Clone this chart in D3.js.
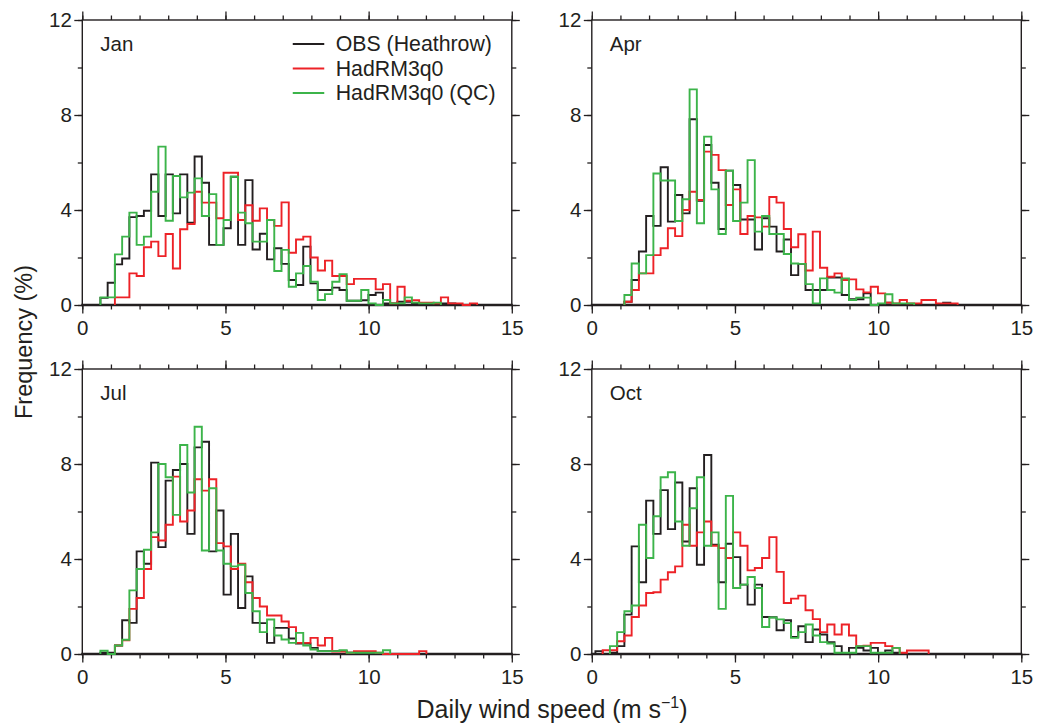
<!DOCTYPE html>
<html><head><meta charset="utf-8">
<script src="https://cdn.jsdelivr.net/npm/d3@7"></script>
<style>
body{margin:0;background:#fff}
svg{display:block}
text{font-family:"Liberation Sans",Arial,Helvetica,sans-serif;fill:#231f20}
</style></head>
<body><svg id="chart" width="1040" height="724"></svg>
<script>
// ---- data ----
const binWidth = 0.253;          // m/s; bin k is centred on k*binWidth
const firstBin = 1;              // index of first value in each series
const months = ["Jan", "Apr", "Jul", "Oct"];
const seriesNames = ["OBS (Heathrow)", "HadRM3q0", "HadRM3q0 (QC)"];
const seriesColors = ["#231f20", "#ed2227", "#3cb44a"];
const xTicks = [0, 5, 10, 15];
const yTicks = [0, 4, 8, 12];

const janObs = [0,0,0.3,0.94,1.71,1.96,3.7,3.75,3.97,5.5,3.75,5.5,3.86,5.5,3.47,6.25,5.15,2.53,2.53,3.23,5.4,2.53,5.26,2.34,3.0,1.92,2.39,1.73,1.05,0.84,2.46,0.91,0.63,0.63,0.73,0.63,0.18,0.18,0.2,0.42,0.52,0.07,0.07,0.14,0.14,0.07,0.07,0,0,0.07,0.07];
const janRcm = [0,0,0,0,0.32,0.32,1.33,1.22,2.43,2.67,2.06,2.99,1.54,3.19,3.41,4.77,4.31,4.31,3.65,5.57,5.57,3.58,4.2,3.55,4.07,3.58,3.33,4.32,2.2,2.76,2.88,2.0,1.45,1.87,1.22,1.22,0.88,1.1,1.1,1.1,0.66,0.88,0.07,0.77,0.18,0.2,0.1,0.1,0.07,0.32,0.07,0.07,0,0.07];
const janQc  = [0,0,0.32,0.32,2.13,2.88,3.89,2.53,2.88,4.77,6.67,3.55,5.43,4.53,4.73,5.33,3.75,4.67,2.53,3.58,5.4,3.89,3.44,2.67,2.67,3.58,1.43,2.32,0.77,1.33,1.64,0.98,0.21,0.46,0.98,1.3,0.18,0.18,0.63,0.07,0,0.21,0.07,0.07,0.32,0.1,0.07,0.07,0.1];

const aprObs = [0,0,0,0,0.14,1.05,2.25,3.75,3.33,5.8,3.51,4.63,3.86,7.82,4.39,6.74,5.15,3.2,5.66,5.05,3.6,3.6,2.34,3.65,3.3,2.25,2.76,1.26,1.73,0.63,0.63,0.63,1.16,1.16,0.42,0.24,0.24,0.49,0,0,0.1,0,0,0,0,0,0,0,0.1];
const aprRcm = [0,0,0,0,0.14,0.63,1.33,1.33,2.1,2.39,3.23,2.9,4.0,4.77,4.42,6.46,6.32,5.68,4.21,4.87,2.99,3.75,3.69,3.3,4.55,4.31,3.2,2.43,2.98,1.45,3.09,1.57,1.19,1.33,1.05,1.08,0.66,0.53,0.77,0.49,0.1,0.07,0.21,0.07,0.07,0.21,0.21,0.07,0.07,0.07];
const aprQc  = [0,0,0,0,0.42,1.75,1.33,2.1,5.54,5.24,5.24,3.54,4.45,9.08,3.44,7.09,4.87,2.99,5.66,3.54,4.31,6.1,3.09,3.75,2.99,2.99,2.15,1.75,1.73,0.88,0.07,1.12,0.63,0.52,1.12,0.21,0.31,0.31,0,0.07,0.45,0.07,0.07,0.07];

const julObs = [0,0,0.05,0.05,0.36,1.42,1.31,4.32,3.8,8.06,4.5,7.3,7.75,8.0,5.06,8.7,8.94,4.32,6.04,2.5,5.06,1.94,3.27,1.31,1.3,0.47,1.1,1.1,0.65,0.44,0.44,0.26,0.12,0.12,0.12,0.12,0.05,0.05];
const julRcm = [0,0,0,0,0.36,0.58,1.9,2.36,3.58,4.92,4.78,5.44,7.47,5.58,6.04,7.36,6.88,7.36,4.67,4.53,3.58,3.8,3.02,2.36,2.0,1.62,1.62,1.37,1.13,0.47,0.47,0.68,0.36,0.68,0.1,0.1,0.05,0.12,0.12,0.12,0.05,0,0,0,0,0,0.12];
const julQc  = [0,0,0.14,0,0.36,0.6,2.68,3.58,4.39,5.12,8.0,7.44,5.86,8.8,6.8,9.57,4.36,6.98,4.36,3.8,3.69,3.76,2.57,1.8,0.92,1.45,0.78,0.61,0.47,0.89,0.36,0.19,0.12,0.12,0.12,0.16,0.05,0.05,0.05,0.05,0.05,0.16];

const octObs = [0.12,0,0.05,0.33,1.66,4.53,3.02,6.46,5.06,6.9,5.26,7.22,4.74,6.98,3.76,8.38,4.6,3.02,4.64,4.08,2.92,2.08,2.92,1.56,1.55,1.0,1.42,0.72,1.17,0.5,1.03,0.82,0.5,0.33,0,0.26,0.26,0.15,0.26,0,0.15,0.05];
const octRcm = [0,0.16,0.16,0.54,0.78,1.56,2.04,2.57,2.6,3.13,3.44,3.69,5.44,4.56,5.12,5.58,4.56,4.46,4.04,5.12,4.56,3.52,3.62,4.04,4.92,3.46,2.15,2.33,2.46,1.84,1.47,0.92,1.24,0.82,1.24,0.78,0.33,0.35,0.47,0.47,0.33,0.26,0.05,0.15,0.15,0.15];
const octQc  = [0,0,0.33,0.92,1.8,2.04,5.44,4.04,5.8,7.44,7.65,5.58,4.56,6.14,7.44,4.56,5.12,1.9,6.66,2.78,2.92,3.24,2.78,1.14,1.54,1.46,1.3,0.68,0.92,1.24,0.78,0.5,0.44,0.05,0.05,0.05,0.33,0.33,0.05,0.05,0.05,0.26];

const panelSeries = [
  [janObs, janRcm, janQc],
  [aprObs, aprRcm, aprQc],
  [julObs, julRcm, julQc],
  [octObs, octRcm, octQc]
];

// ---- layout ----
const ink = "#231f20";
const panelLeft = [82.3, 591.8];
const panelTop = [20, 369];
const panelW = 429.5, panelH = 285;
const svg = d3.select("#chart");

function stepPoints(vals) {
  let a = vals.findIndex(v => v > 0);
  let b = vals.length - 1;
  while (b > a && !(vals[b] > 0)) b--;
  const pts = [];
  for (let i = a; i <= b; i++) {
    const k = i + firstBin;
    const l = (k - 0.5) * binWidth, r = (k + 0.5) * binWidth;
    if (i === a) pts.push([l, 0]);
    pts.push([l, vals[i]]);
    pts.push([r, vals[i]]);
  }
  const kb = b + firstBin;
  pts.push([(kb + 0.5) * binWidth, 0]);
  return pts;
}

months.forEach((m, p) => {
  const left = panelLeft[p % 2], top = panelTop[Math.floor(p / 2)];
  const x = d3.scaleLinear().domain([0, 15]).range([left, left + panelW]);
  const y = d3.scaleLinear().domain([0, 12]).range([top + panelH, top]);
  const g = svg.append("g");

  const styleAxis = sel => {
    sel.select(".domain").remove();
    sel.selectAll(".tick line").attr("stroke", ink).attr("stroke-width", 1.3);
    sel.selectAll(".tick text").attr("font-size", 20.5).attr("font-family", null).style("fill", ink);
  };

  // minor ticks
  g.append("g").attr("transform", `translate(0,${top + panelH})`)
    .call(d3.axisBottom(x).tickValues(d3.range(0, 16)).tickSize(4.5).tickFormat("")).call(styleAxis);
  g.append("g").attr("transform", `translate(0,${top})`)
    .call(d3.axisTop(x).tickValues(d3.range(0, 16)).tickSize(4.5).tickFormat("")).call(styleAxis);
  g.append("g").attr("transform", `translate(${left},0)`)
    .call(d3.axisLeft(y).tickValues(d3.range(0, 13, 2)).tickSize(4.5).tickFormat("")).call(styleAxis);
  g.append("g").attr("transform", `translate(${left + panelW},0)`)
    .call(d3.axisRight(y).tickValues(d3.range(0, 13, 2)).tickSize(4.5).tickFormat("")).call(styleAxis);
  // major ticks
  g.append("g").attr("transform", `translate(0,${top + panelH})`)
    .call(d3.axisBottom(x).tickValues(xTicks).tickSize(8.5).tickPadding(7).tickFormat(d3.format("d"))).call(styleAxis);
  g.append("g").attr("transform", `translate(0,${top})`)
    .call(d3.axisTop(x).tickValues(xTicks).tickSize(8.5).tickFormat("")).call(styleAxis);
  g.append("g").attr("transform", `translate(${left},0)`)
    .call(d3.axisLeft(y).tickValues(yTicks).tickSize(8).tickPadding(2.5).tickFormat(d3.format("d"))).call(styleAxis);
  g.append("g").attr("transform", `translate(${left + panelW},0)`)
    .call(d3.axisRight(y).tickValues(yTicks).tickSize(8).tickFormat("")).call(styleAxis);

  // frame
  g.append("rect").attr("x", left).attr("y", top).attr("width", panelW).attr("height", panelH)
    .attr("fill", "none").attr("stroke", ink).attr("stroke-width", 1.4);
  g.append("line").attr("x1", left - 1).attr("x2", left + panelW + 1)
    .attr("y1", y(0)).attr("y2", y(0)).attr("stroke", ink).attr("stroke-width", 2.6);

  // histograms
  const line = d3.line().x(d => x(d[0])).y(d => y(d[1]));
  panelSeries[p].forEach((vals, s) => {
    g.append("path").attr("d", line(stepPoints(vals)))
      .attr("fill", "none").attr("stroke", seriesColors[s])
      .attr("stroke-width", 1.9).attr("stroke-linejoin", "miter");
  });

  // month label
  g.append("text").attr("x", left + 18).attr("y", top + 31).attr("font-size", 20.5).text(m);

  // legend in first panel
  if (p === 0) {
    seriesNames.forEach((name, s) => {
      const ly = top + 24 + s * 24.5;
      g.append("line").attr("x1", x(7.35)).attr("x2", x(8.45)).attr("y1", ly).attr("y2", ly)
        .attr("stroke", seriesColors[s]).attr("stroke-width", 1.9);
      g.append("text").attr("x", x(8.85)).attr("y", ly).attr("dy", "0.35em")
        .attr("font-size", 21.3).text(name);
    });
  }
});

// axis titles
svg.append("text").attr("transform", "translate(24,342) rotate(-90)")
  .attr("text-anchor", "middle").attr("dy", "0.35em").attr("font-size", 23.5).text("Frequency (%)");
const xt = svg.append("text").attr("x", 552).attr("y", 718).attr("text-anchor", "middle").attr("font-size", 25);
xt.append("tspan").text("Daily wind speed (m s");
xt.append("tspan").attr("font-size", 16).attr("dy", -10).text("\u22121");
xt.append("tspan").attr("dy", 10).text(")");
</script>
</body></html>
